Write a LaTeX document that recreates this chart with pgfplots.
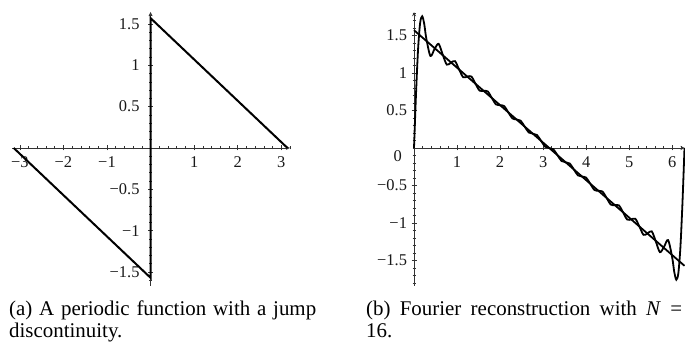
\documentclass[border=0pt]{standalone}
\usepackage{pgfplots}
\pgfplotsset{compat=1.18}
\usepackage{fontspec}
\setmainfont{Liberation Serif}

\pgfplotsset{
  mapleaxis/.style={
    scale only axis,
    axis lines=middle,
    axis line style={line width=0.8bp, black!80},
    tick style={black!80, line width=0.6bp},
    tick align=center,
    major tick length=5bp,
    minor tick length=3bp,
    ticklabel style={font=\fontsize{16.5}{17}\selectfont, text=black!90},
    xticklabel style={yshift=-3bp},
    clip=false,
    anchor=south west,
  }
}

\begin{document}
\begin{tikzpicture}
\path[use as bounding box] (0,0) rectangle (685bp,343bp);

% (a) periodic function with a jump
\begin{axis}[mapleaxis,
  at={(12bp,57bp)},
  width=278bp, height=274bp,
  xmin=-3.18, xmax=3.2, ymin=-1.67, ymax=1.645,
  xtick={-3,-2,-1,0,1,2,3},
  xticklabels={−3,−2,−1,,1,2,3},
  ytick={-1.5,-1,-0.5,0,0.5,1,1.5},
  yticklabels={−1.5,−1,−0.5,,0.5,1,1.5},
  minor xtick={-3.2,-3.0,...,3.2},
  minor ytick={-1.6,-1.5,...,1.6},
  yticklabel style={xshift=-5bp},
]
\addplot[black, line width=2bp] coordinates {
  (-3.1416,0) (0,-1.5708) (0,1.5708) (3.1416,0)
};
\end{axis}

% (b) Fourier reconstruction, N = 16
\begin{axis}[mapleaxis,
  at={(414bp,57bp)},
  width=270.5bp, height=273.75bp,
  xmin=0, xmax=6.2832, ymin=-1.84, ymax=1.81,
  xtick={1,2,3,4,5,6},
  xticklabels={1,2,3,4,5,6},
  ytick={-1.5,-1,-0.5,0,0.5,1,1.5},
  yticklabels={−1.5,−1,−0.5,,0.5,1,1.5},
  minor xtick={0,0.2,...,6.2},
  minor ytick={-1.8,-1.7,...,1.8},
  yticklabel style={xshift=-1bp},
]
\addplot[black, line width=1.8bp] coordinates {(0,1.5708) (6.2832,-1.5708)};
\addplot[black, line width=1.8bp, smooth] coordinates {
(0,0)
(0.0476,0.7349)
(0.0952,1.3232)
(0.1428,1.6682)
(0.1904,1.7567)
(0.2380,1.6527)
(0.2856,1.4609)
(0.3808,1.2278)
(0.4760,1.3182)
(0.5712,1.3892)
(0.6664,1.2455)
(0.7616,1.1114)
(0.8568,1.1376)
(0.9520,1.1579)
(1.0472,1.0472)
(1.1424,0.9435)
(1.2376,0.9520)
(1.3328,0.9534)
(1.4280,0.8568)
(1.5232,0.7653)
(1.6184,0.7616)
(1.7136,0.7541)
(1.8088,0.6664)
(1.9040,0.5816)
(1.9992,0.5712)
(2.0944,0.5586)
(2.1896,0.4760)
(2.2848,0.3951)
(2.3800,0.3808)
(2.4752,0.3653)
(2.5704,0.2856)
(2.6656,0.2068)
(2.7608,0.1904)
(2.8560,0.1734)
(2.9512,0.0952)
(3.0464,0.0173)
(3.1416,0)
(3.2368,-0.0173)
(3.3320,-0.0952)
(3.4272,-0.1734)
(3.5224,-0.1904)
(3.6176,-0.2068)
(3.7128,-0.2856)
(3.8080,-0.3653)
(3.9032,-0.3808)
(3.9984,-0.3951)
(4.0936,-0.4760)
(4.1888,-0.5586)
(4.2840,-0.5712)
(4.3792,-0.5816)
(4.4744,-0.6664)
(4.5696,-0.7541)
(4.6648,-0.7616)
(4.7600,-0.7653)
(4.8552,-0.8568)
(4.9504,-0.9534)
(5.0456,-0.9520)
(5.1408,-0.9435)
(5.2360,-1.0472)
(5.3312,-1.1579)
(5.4264,-1.1376)
(5.5216,-1.1114)
(5.6168,-1.2455)
(5.7120,-1.3892)
(5.8072,-1.3182)
(5.9024,-1.2278)
(5.9976,-1.4609)
(6.0452,-1.6527)
(6.0928,-1.7567)
(6.1404,-1.6682)
(6.1880,-1.3232)
(6.2356,-0.7349)
(6.2832,0)
};
\node[anchor=north east, inner sep=0, xshift=-12bp, yshift=-2bp,
      font=\fontsize{16.5}{17}\selectfont, text=black!90] at (axis cs:0,0) {0};
\end{axis}

% captions
\begin{scope}[every node/.style={inner sep=0, anchor=base west, font=\fontsize{21}{22}\selectfont}]
\node at (9bp,27.5bp) {\makebox[307bp][s]{(a) A periodic function with a jump}};
\node at (9bp,6bp) {discontinuity.};
\node at (366bp,27.5bp) {\makebox[316bp][s]{(b) Fourier reconstruction with \textit{N} =}};
\node at (366bp,6bp) {16.};
\end{scope}
\end{tikzpicture}
\end{document}
